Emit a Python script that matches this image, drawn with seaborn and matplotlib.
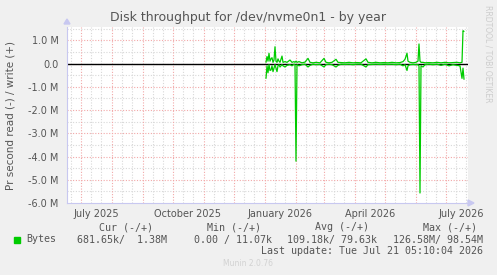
import matplotlib
matplotlib.use("Agg")
import matplotlib.pyplot as plt
import matplotlib.dates as mdates
import matplotlib.ticker as mticker
import seaborn as sns
import pandas as pd
import numpy as np

# ---- data (day offsets from 2026-01-01, values in MB/s) ----
day_offsets = [1, 2, 3, 4, 5, 6, 7, 8, 9, 10, 11, 12, 13, 14, 15, 17, 18, 20, 22, 25,
               27, 29, 30, 31, 32, 34, 37, 40, 43, 45, 48, 51, 55, 59, 61, 64, 67, 71,
               73, 76, 80, 84, 88, 92, 96, 101, 103, 107, 111, 115, 119, 123, 127, 131,
               135, 138, 140, 142, 143, 145, 148, 151, 153, 154, 155, 156, 158, 160, 164,
               168, 172, 176, 180, 184, 188, 192, 195, 197, 198, 199]
write_mb = [0.05, 0.30, 0.10, 0.44, 0.10, 0.20, 0.25, 0.05, 0.15, 0.72, 0.10, 0.05, 0.20,
            0.10, 0.05, 0.32, 0.05, 0.08, 0.05, 0.15, 0.05, 0.08, 0.05, 0.10, 0.05, 0.08,
            0.03, 0.06, 0.22, 0.05, 0.03, 0.05, 0.03, 0.22, 0.05, 0.03, 0.05, 0.18, 0.05,
            0.04, 0.03, 0.05, 0.03, 0.04, 0.03, 0.20, 0.05, 0.03, 0.05, 0.03, 0.04, 0.03,
            0.05, 0.03, 0.04, 0.08, 0.18, 0.44, 0.10, 0.05, 0.03, 0.05, 0.10, 0.84, 0.10,
            0.05, 0.05, 0.03, 0.04, 0.03, 0.05, 0.03, 0.05, 0.03, 0.04, 0.05, 0.03, 0.05,
            1.41, 1.38]
read_mb = [0.64, 0.10, 0.40, 0.05, 0.30, 0.28, 0.10, 0.35, 0.20, 0.05, 0.20, 0.35, 0.10,
           0.05, 0.15, 0.05, 0.10, 0.15, 0.08, 0.05, 0.10, 0.03, 0.05, 4.20, 0.05, 0.10,
           0.05, 0.03, 0.15, 0.08, 0.03, 0.05, 0.04, 0.15, 0.05, 0.03, 0.05, 0.15, 0.08,
           0.03, 0.04, 0.03, 0.05, 0.03, 0.03, 0.15, 0.05, 0.04, 0.03, 0.04, 0.03, 0.04,
           0.03, 0.05, 0.03, 0.10, 0.05, 0.30, 0.10, 0.05, 0.04, 0.05, 0.05, 0.10, 5.57,
           0.10, 0.15, 0.05, 0.03, 0.05, 0.03, 0.08, 0.03, 0.10, 0.05, 0.08, 0.10, 0.64,
           0.20, 0.68]

ytick_vals = [1.0, 0.0, -1.0, -2.0, -3.0, -4.0, -5.0, -6.0]
ytick_labels = ["1.0 M", "0.0", "-1.0 M", "-2.0 M", "-3.0 M", "-4.0 M", "-5.0 M", "-6.0 M"]
xlabel_months = ["2025-07-01", "2025-10-01", "2026-01-01", "2026-04-01", "2026-07-01"]
xlabel_texts = ["July 2025", "October 2025", "January 2026", "April 2026", "July 2026"]

legend_headers = ["Cur (-/+)", "Min (-/+)", "Avg (-/+)", "Max (-/+)"]
legend_values = ["681.65k/  1.38M", "0.00 / 11.07k", "109.18k/ 79.63k", "126.58M/ 98.54M"]
title = "Disk throughput for /dev/nvme0n1 - by year"
last_update = "Last update: Tue Jul 21 05:10:04 2026"

# ---- figure ----
sns.set_theme(style="white")
plt.rcParams["font.family"] = ["DejaVu Sans"]

W, H = 497, 275
fig = plt.figure(figsize=(W / 100, H / 100), dpi=100, facecolor="#F0F0F0")
L, R, T, B = 67, 468, 27, 203
ax = fig.add_axes([L / W, 1 - B / H, (R - L) / W, (B - T) / H])
ax.set_facecolor("white")

base = pd.Timestamp("2026-01-01")
dates = [base + pd.Timedelta(days=d) for d in day_offsets]
df = pd.DataFrame({
    "date": dates + dates,
    "value": [v * 1e6 for v in write_mb] + [-v * 1e6 for v in read_mb],
    "dir": ["write"] * len(dates) + ["read"] * len(dates),
})

x0 = pd.Timestamp("2025-06-17")
x1 = pd.Timestamp("2026-07-23")

# grid
text_col = "#555555"
red_grid = "#F2A8A8"
gray_grid = "#D8D8D8"
for m in pd.date_range("2025-06-01", "2026-08-01", freq="MS"):
    for dd in (10, 20):
        t = m + pd.Timedelta(days=dd)
        if x0 < t < x1:
            ax.axvline(t, color=gray_grid, lw=0.8, ls=(0, (1, 1.5)), zorder=0)
    if x0 < m < x1:
        ax.axvline(m, color=red_grid, lw=0.8, ls=(0, (1, 1.5)), zorder=0.5)
for yv in np.arange(-5.5e6, 1.6e6, 1e6):
    ax.axhline(yv, color=gray_grid, lw=0.8, ls=(0, (1, 1.5)), zorder=0)
for yv in ytick_vals:
    if yv != -6.0:
        ax.axhline(yv * 1e6, color=red_grid, lw=0.8, ls=(0, (1, 1.5)), zorder=0.5)

ax.axhline(0, color="black", lw=1.0, zorder=2)

sns.lineplot(data=df, x="date", y="value", units="dir", estimator=None,
             color="#00CC00", lw=0.9, ax=ax, zorder=3, legend=False)

ax.set_xlim(x0, x1)
ax.set_ylim(-6.0e6, 1.57e6)
ax.set_xlabel("")
ax.set_ylabel("Pr second read (-) / write (+)", color=text_col, fontsize=7.5, labelpad=9)

ax.set_yticks([v * 1e6 for v in ytick_vals])
ax.set_yticklabels(ytick_labels)
ax.tick_params(axis="y", length=0, pad=6, labelsize=7, labelcolor=text_col)

label_pos = [pd.Timestamp(m) + pd.Timedelta(days=15) for m in xlabel_months]
ax.set_xticks(label_pos)
ax.set_xticklabels(xlabel_texts)
ax.tick_params(axis="x", length=0, pad=4, labelsize=7, labelcolor=text_col)
ax.grid(False)

for s in ["top", "right"]:
    ax.spines[s].set_visible(False)
for s in ["left", "bottom"]:
    ax.spines[s].set_color("#C8C8F0")
    ax.spines[s].set_linewidth(0.8)

# axis arrows
fig.patches.append(plt.Polygon([[(L - 3) / W, 1 - 24 / H], [(L + 3) / W, 1 - 24 / H], [L / W, 1 - 19 / H]],
                               closed=True, transform=fig.transFigure, color="#C8C8F0"))
fig.patches.append(plt.Polygon([[(R + 0) / W, 1 - (B - 3) / H], [(R + 0) / W, 1 - (B + 3) / H], [(R + 6) / W, 1 - B / H]],
                               closed=True, transform=fig.transFigure, color="#C8C8F0"))

# title
fig.text(248 / W, 1 - 18 / H, title, ha="center", va="center", fontsize=9, color=text_col)

# side text
fig.text(488 / W, 1 - 54 / H, "RRDTOOL / TOBI OETIKER", rotation=270, ha="center", va="center",
         fontsize=5.5, color="#CDCDCD")

# legend
mono = "DejaVu Sans Mono"
fs = 7.2
hdr_x = [98.7, 206.7, 315, 422.7]
val_x = [76.7, 194, 287.3, 392.7]
for hx, h in zip(hdr_x, legend_headers):
    fig.text(hx / W, 1 - 227 / H, h, family=mono, fontsize=fs, color=text_col, ha="left", va="center")
for vx, v in zip(val_x, legend_values):
    fig.text(vx / W, 1 - 239.5 / H, v, family=mono, fontsize=fs, color=text_col, ha="left", va="center")
fig.patches.append(plt.Rectangle((14 / W, 1 - 242.5 / H), 5.5 / W, 5.5 / H, transform=fig.transFigure,
                                 color="#00CC00"))
fig.text(26 / W, 1 - 239.5 / H, "Bytes", family=mono, fontsize=fs, color=text_col, ha="left", va="center")
fig.text(483 / W, 1 - 251 / H, last_update, family=mono, fontsize=fs, color=text_col, ha="right", va="center")
fig.text(248 / W, 1 - 264 / H, "Munin 2.0.76", fontsize=5.5, color="#D2D2D2", ha="center", va="center")

fig.savefig("out.png", dpi=100, facecolor=fig.get_facecolor())
